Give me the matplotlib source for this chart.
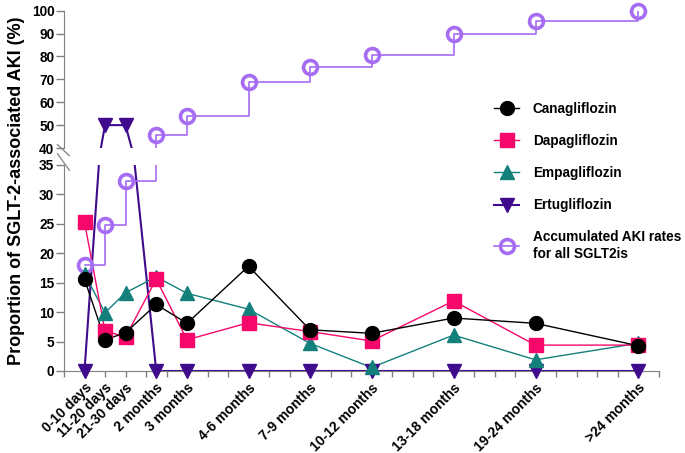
import numpy as np
import matplotlib.pyplot as plt
from matplotlib.lines import Line2D

plt.rcParams['font.family'] = ['Liberation Sans', 'DejaVu Sans']
plt.rcParams['font.weight'] = 'bold'

# x categories and where they sit on the (irregular) time axis
periods = ['0-10 days', '11-20 days', '21-30 days', '2 months', '3 months', '4-6 months',
           '7-9 months', '10-12 months', '13-18 months', '19-24 months', '>24 months']
period_pos = [1, 2, 3, 4.5, 6, 9, 12, 15, 19, 23, 28]

# proportions (%)
cana = [15.6, 5.3, 6.5, 11.3, 8.1, 17.8, 7.0, 6.4, 9.0, 8.1, 4.3]
dapa = [25.3, 6.8, 5.8, 15.6, 5.3, 8.2, 6.7, 5.1, 11.9, 4.4, 4.4]
empa = [16.5, 9.9, 13.3, 16.0, 13.2, 10.5, 4.7, 0.6, 6.1, 1.9, 4.7]
ertu = [0, 50, 50, 0, 0, 0, 0, 0, 0, 0, 0]
accum = [18.0, 24.8, 32.3, 45.6, 54.1, 68.8, 75.4, 80.6, 89.6, 95.6, 100]

x = np.array(period_pos)

# drawing order: first is at the back
series = [
    ('Ertugliflozin', ertu, '#3F0A8C', 'v', 10, 1.5, 'default', None),
    ('Accumulated AKI rates\nfor all SGLT2is', accum, '#A66CF2', 'o', 10, 1.2, 'steps-post', 'none'),
    ('Empagliflozin', empa, '#13807C', '^', 10, 1.0, 'default', None),
    ('Dapagliflozin', dapa, '#F5086A', 's', 9.5, 1.0, 'default', None),
    ('Canagliflozin', cana, '#000000', 'o', 10, 1.0, 'default', None),
]

fig = plt.figure(figsize=(6.85, 4.53), dpi=100)
W, H = 685, 453
ax_top = fig.add_axes([64 / W, 1 - 148 / H, 594.5 / W, 137.3 / H])
ax_bot = fig.add_axes([64 / W, 1 - 371 / H, 594.5 / W, 206 / H])

grey = '#808080'
for ax, lo, hi in [(ax_top, 40, 100), (ax_bot, 0, 35)]:
    for label, vals, col, mk, ms, lw, ds, mfc in series:
        v = np.array(vals, dtype=float)
        ax.plot(x, v, color=col, lw=lw, drawstyle=ds, zorder=2)
        keep = (v >= lo) & (v <= hi)
        ax.plot(x[keep], v[keep], linestyle='none', marker=mk, ms=ms, color=col,
                mfc=mfc if mfc else col, mew=2.6 if mfc else 1, clip_on=False, zorder=3)
    ax.set_ylim(lo, hi)
    ax.set_xlim(0, 29)
    for s in ['top', 'right']:
        ax.spines[s].set_visible(False)
    ax.spines['left'].set_color(grey)
    ax.tick_params(axis='y', direction='out', length=6, width=1, color=grey,
                   labelsize=9.8, pad=1)

ax_top.set_yticks(np.arange(40, 101, 10))
ax_top.spines['bottom'].set_visible(False)
ax_top.set_xticks([])

ax_bot.set_yticks(np.arange(0, 36, 5))
ax_bot.spines['bottom'].set_color(grey)
ax_bot.set_xticks(period_pos)
ax_bot.set_xticklabels(periods, rotation=45, ha='right', va='top',
                       rotation_mode='anchor', fontsize=10)
ax_bot.set_xticks(np.arange(0, 30, 1), minor=True)
ax_bot.tick_params(axis='x', which='both', direction='out', length=4, width=1,
                   color=grey, pad=3)

# break marks on the y axis
d = 0.045
ax_top.plot([-0.011, 0.009], [-d * 0.35 + 0.04, -d * 0.35 - 0.04], transform=ax_top.transAxes,
            color=grey, lw=0.9, clip_on=False)
ax_bot.plot([-0.011, 0.009], [1.02 + 0.035, 1.02 - 0.045], transform=ax_bot.transAxes,
            color=grey, lw=0.9, clip_on=False)

fig.text(17 / W, 1 - 191 / H, 'Proportion of SGLT-2-associated AKI (%)', rotation=90,
         ha='center', va='center', fontsize=13, fontweight='bold')

# legend
order = ['Canagliflozin', 'Dapagliflozin', 'Empagliflozin', 'Ertugliflozin',
         'Accumulated AKI rates\nfor all SGLT2is']
handles = []
for name in order:
    label, vals, col, mk, ms, lw, ds, mfc = [s for s in series if s[0] == name][0]
    handles.append(Line2D([], [], color=col, lw=lw, marker=mk, ms=ms,
                          mfc=mfc if mfc else col, mew=2.6 if mfc else 1))
fig.legend(handles, order, loc='upper left', bbox_to_anchor=(494 / W, 1 - 102 / H),
           frameon=False, fontsize=9.8, handlelength=1.85, handletextpad=1.0,
           labelspacing=1.33, borderpad=0, borderaxespad=0)

fig.savefig('out.png', dpi=100)
